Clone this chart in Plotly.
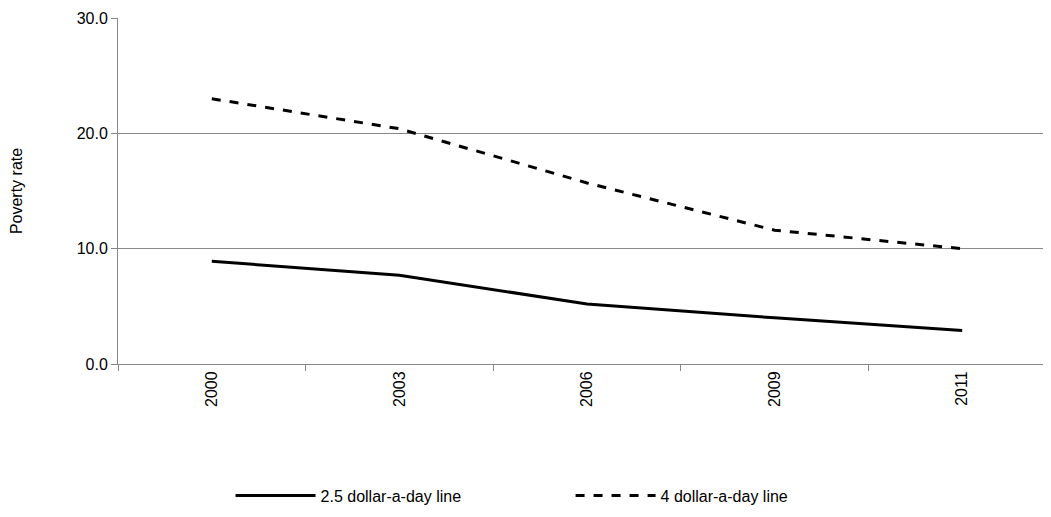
import plotly.graph_objects as go

years = ["2000", "2003", "2006", "2009", "2011"]
line_25 = [8.9, 7.7, 5.2, 4.0, 2.9]
line_4 = [23.0, 20.4, 15.7, 11.6, 10.0]

fig = go.Figure()
fig.add_trace(go.Scatter(x=years, y=line_25, mode="lines", name="2.5 dollar-a-day line",
                         line=dict(color="black", width=3)))
fig.add_trace(go.Scatter(x=years, y=line_4, mode="lines", name="4 dollar-a-day line",
                         line=dict(color="black", width=3, dash="dash")))
fig.update_layout(
    width=1051, height=517, plot_bgcolor="white", paper_bgcolor="white",
    margin=dict(l=110, r=3, t=10, b=161, autoexpand=False),
    font=dict(family="Liberation Sans, Arial, sans-serif", size=16, color="black"),
    legend=dict(orientation="h", x=0.12, xanchor="left", y=-0.38, yanchor="middle",
                font=dict(size=16), itemwidth=80, entrywidth=245, tracegroupgap=0),
    xaxis=dict(type="category", range=[-0.5, 4.5], tickangle=-90, tickson="boundaries", ticks="outside",
               ticklen=6, tickcolor="#888", showline=True, linecolor="#888", showgrid=False),
    yaxis=dict(range=[0, 30], dtick=10, tickformat=".1f", showgrid=True, gridcolor="#888",
               showline=True, linecolor="#888", ticks="outside", ticklen=6, tickcolor="#888",
               title=dict(text="Poverty rate", font=dict(size=16), standoff=52), zeroline=False),
)
fig.write_html("out.html")
